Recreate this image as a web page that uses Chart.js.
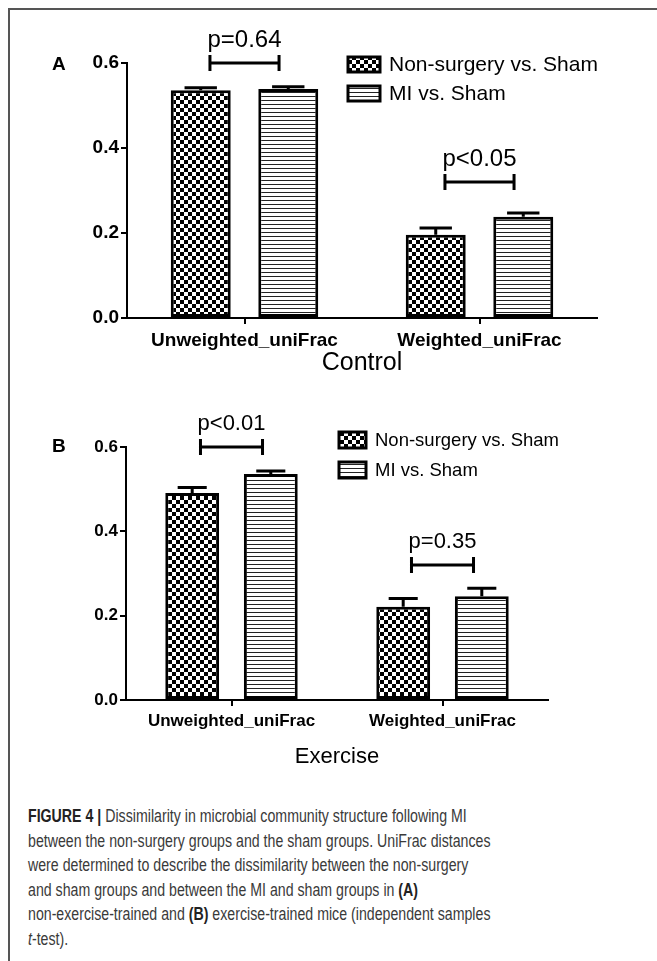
<!DOCTYPE html>
<html>
<head>
<meta charset="utf-8">
<script src="https://cdn.jsdelivr.net/npm/chart.js@4.4.0/dist/chart.umd.min.js"></script>
<style>
  body { margin: 0; background: #fff; width: 657px; height: 961px; position: relative; overflow: hidden; font-family: 'Liberation Sans', Arial, sans-serif; }
  .frame { position: absolute; left: 8px; top: 8px; right: 0; bottom: -4px; border-top: 2px solid #555; border-left: 2px solid #555; }
  .panel { position: absolute; left: 0; }
  .tag { position: absolute; left: 52px; font-weight: bold; font-size: 19px; color: #000; }
  .caption { position: absolute; left: 28px; top: 804px; font-family: 'Liberation Sans', Arial, sans-serif; font-size: 17.5px; line-height: 24.6px; color: #3a3a3a; white-space: nowrap; transform: scaleX(0.81); transform-origin: 0 0; }
  .caption b { color: #222; }
</style>
</head>
<body>
<div class="frame"></div>
<canvas id="chartA" class="panel" width="657" height="382" style="top:0"></canvas>
<canvas id="chartB" class="panel" width="657" height="394" style="top:380px"></canvas>
<div class="tag" style="top:53px">A</div>
<div class="tag" style="top:435px">B</div>
<div class="caption">
<b>FIGURE 4 |</b> Dissimilarity in microbial community structure following MI<br>
between the non-surgery groups and the sham groups. UniFrac distances<br>
were determined to describe the dissimilarity between the non-surgery<br>
and sham groups and between the MI and sham groups in <b>(A)</b><br>
non-exercise-trained and <b>(B)</b> exercise-trained mice (independent samples<br>
<i>t</i>-test).
</div>
<script>
// dados
const categories = ['Unweighted_uniFrac', 'Weighted_uniFrac'];
const seriesNames = ['Non-surgery vs. Sham', 'MI vs. Sham'];

// painel A - Control
const controlNonSurgery = [0.536, 0.196];
const controlNonSurgeryErr = [0.006, 0.016];
const controlMI = [0.539, 0.238];
const controlMIErr = [0.005, 0.009];
const controlPLabels = ['p=0.64', 'p<0.05'];
const controlBracketY = [0.60, 0.32];

// painel B - Exercise
const exerciseNonSurgery = [0.491, 0.221];
const exerciseNonSurgeryErr = [0.013, 0.020];
const exerciseMI = [0.536, 0.246];
const exerciseMIErr = [0.007, 0.019];
const exercisePLabels = ['p<0.01', 'p=0.35'];
const exerciseBracketY = [0.60, 0.32];

const yMin = 0, yMax = 0.6, yStep = 0.2;

// padrões de preenchimento (xadrez e listras)
function checkerPattern(size) {
  const c = document.createElement('canvas');
  c.width = size * 2; c.height = size * 2;
  const g = c.getContext('2d');
  g.fillStyle = '#fff'; g.fillRect(0, 0, c.width, c.height);
  g.fillStyle = '#000';
  g.fillRect(0, 0, size, size);
  g.fillRect(size, size, size, size);
  return g.createPattern(c, 'repeat');
}
function stripePattern(gap) {
  const c = document.createElement('canvas');
  c.width = 4; c.height = gap;
  const g = c.getContext('2d');
  g.fillStyle = '#fff'; g.fillRect(0, 0, c.width, c.height);
  g.fillStyle = '#222'; g.fillRect(0, 0, c.width, 1);
  return g.createPattern(c, 'repeat');
}
const checker = checkerPattern(4);
const stripes = stripePattern(4);

// barras de erro, colchetes de significância e legenda
const annotations = {
  id: 'annotations',
  afterDatasetsDraw(chart, args, opts) {
    const ctx = chart.ctx;
    const xs = chart.scales.x, ys = chart.scales.y;
    ctx.save();
    ctx.strokeStyle = '#000';
    ctx.fillStyle = '#000';
    ctx.lineWidth = 3;
    // erros (só para cima)
    chart.data.datasets.forEach((ds, di) => {
      chart.getDatasetMeta(di).data.forEach((bar, i) => {
        const yTop = ys.getPixelForValue(ds.data[i] + ds.err[i]);
        const half = bar.width * 0.27;
        ctx.beginPath();
        ctx.moveTo(bar.x, bar.y);
        ctx.lineTo(bar.x, yTop);
        ctx.moveTo(bar.x - half, yTop);
        ctx.lineTo(bar.x + half, yTop);
        ctx.stroke();
      });
    });
    // colchetes com p-valor
    const catW = xs.width / chart.data.labels.length;
    ctx.textAlign = 'center';
    ctx.textBaseline = 'middle';
    ctx.font = opts.pFont + 'px "Liberation Sans", Arial, sans-serif';
    opts.pLabels.forEach((txt, i) => {
      const cx = xs.getPixelForValue(i);
      const x1 = cx - catW * 0.147, x2 = cx + catW * 0.147;
      const y = ys.getPixelForValue(opts.bracketY[i]);
      ctx.beginPath();
      ctx.moveTo(x1, y); ctx.lineTo(x2, y);
      ctx.moveTo(x1, y - 8); ctx.lineTo(x1, y + 8);
      ctx.moveTo(x2, y - 8); ctx.lineTo(x2, y + 8);
      ctx.stroke();
      ctx.fillText(txt, cx, y - 23);
    });
    // legenda
    ctx.textAlign = 'left';
    ctx.font = opts.legendFont + 'px "Liberation Sans", Arial, sans-serif';
    chart.data.datasets.forEach((ds, di) => {
      const bx = opts.legendX, by = opts.legendY + di * opts.legendGap;
      ctx.fillStyle = ds.backgroundColor;
      ctx.fillRect(bx, by, opts.boxW, opts.boxH);
      ctx.lineWidth = 3;
      ctx.strokeRect(bx, by, opts.boxW, opts.boxH);
      ctx.fillStyle = '#000';
      ctx.fillText(ds.label, bx + opts.boxW + 9, by + opts.boxH / 2 + 1);
    });
    ctx.restore();
  }
};

function makeChart(id, nonSurgery, nsErr, mi, miErr, o) {
  return new Chart(document.getElementById(id), {
    type: 'bar',
    data: {
      labels: categories,
      datasets: [
        { label: seriesNames[0], data: nonSurgery, err: nsErr, backgroundColor: checker, borderColor: '#000', borderWidth: 3, borderSkipped: false },
        { label: seriesNames[1], data: mi, err: miErr, backgroundColor: stripes, borderColor: '#000', borderWidth: 3, borderSkipped: false }
      ]
    },
    options: {
      responsive: false,
      animation: false,
      devicePixelRatio: 1,
      layout: { padding: o.padding },
      datasets: { bar: { categoryPercentage: 0.745, barPercentage: 0.685 } },
      scales: {
        x: {
          afterFit: (axis) => { axis.height = o.xHeight; },
          border: { display: true, color: '#000', width: 2 },
          grid: { display: true, drawOnChartArea: false, offset: false, tickLength: 6, color: '#000', lineWidth: 2 },
          ticks: { color: '#000', padding: 5, font: { family: '"Liberation Sans", Arial, sans-serif', size: o.tickFont, weight: 'bold' } },
          title: { display: true, text: o.title, color: '#000', padding: { top: 0, bottom: 4 },
                   font: { family: '"Liberation Sans", Arial, sans-serif', size: o.titleFont } }
        },
        y: {
          min: yMin, max: yMax,
          afterFit: (axis) => { axis.width = 60; },
          border: { display: true, color: '#000', width: 2 },
          grid: { display: true, drawOnChartArea: false, tickLength: 6, color: '#000', lineWidth: 2 },
          ticks: { stepSize: yStep, color: '#000', padding: 2, font: { family: '"Liberation Sans", Arial, sans-serif', size: o.tickFont, weight: 'bold' },
                   callback: (v) => Number(v).toFixed(1) }
        }
      },
      plugins: {
        legend: { display: false },
        tooltip: { enabled: false },
        annotations: o.ann
      }
    },
    plugins: [annotations]
  });
}

makeChart('chartA', controlNonSurgery, controlNonSurgeryErr, controlMI, controlMIErr, {
  padding: { left: 67, right: 60, top: 63, bottom: 0 },
  xHeight: 64, tickFont: 19, title: 'Control', titleFont: 25,
  ann: { pLabels: controlPLabels, bracketY: controlBracketY, pFont: 24, legendFont: 21,
         legendX: 348, legendY: 57, legendGap: 29, boxW: 32, boxH: 15 }
});

makeChart('chartB', exerciseNonSurgery, exerciseNonSurgeryErr, exerciseMI, exerciseMIErr, {
  padding: { left: 66, right: 109, top: 67, bottom: 0 },
  xHeight: 74, tickFont: 17, title: 'Exercise', titleFont: 22,
  ann: { pLabels: exercisePLabels, bracketY: exerciseBracketY, pFont: 22, legendFont: 18.5,
         legendX: 339, legendY: 52, legendGap: 30, boxW: 27, boxH: 16 }
});
</script>
</body>
</html>
